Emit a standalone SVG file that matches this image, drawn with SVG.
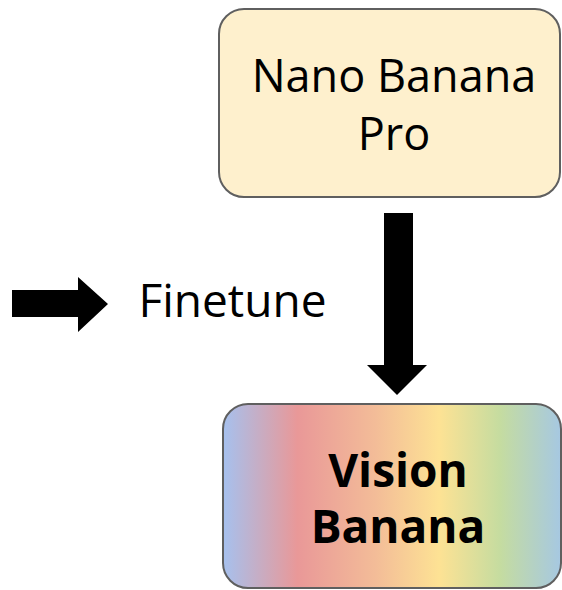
<svg xmlns="http://www.w3.org/2000/svg" width="562" height="590" viewBox="0 0 562 590">
<style>
.box{stroke:#5f5f5f;stroke-width:2}
.t{font-family:"Open Sans","Noto Sans",sans-serif;fill:#000;text-anchor:middle}
.arrow{fill:#000}
</style>
<defs>
<linearGradient id="rainbow" gradientUnits="userSpaceOnUse" x1="223" y1="0" x2="561" y2="0">
<stop offset="0" stop-color="#a6c1ee"/>
<stop offset="0.22" stop-color="#e99898"/>
<stop offset="0.45" stop-color="#f3bc98"/>
<stop offset="0.64" stop-color="#fde294"/>
<stop offset="0.82" stop-color="#c5dca0"/>
<stop offset="1" stop-color="#a6c8e2"/>
</linearGradient>
</defs>
<rect width="562" height="590" fill="#fff"/>
<g id="connectors">
<polygon class="arrow" points="12,290 78,290 78,277 108,304 78,332 78,317 12,317"/>
<polygon class="arrow" points="384,213 413,213 413,365 427,365 397,395 367,365 384,365"/>
</g>
<g id="nano-banana-pro">
<rect class="box" x="219" y="9" width="341" height="188" rx="25" fill="#fef0cd"/>
<text class="t" x="394" y="92" font-size="45">Nano Banana</text>
<text class="t" x="394" y="150" font-size="45">Pro</text>
</g>
<g id="finetune-label">
<text class="t" x="232.5" y="317" font-size="46">Finetune</text>
</g>
<g id="vision-banana">
<rect class="box" x="223" y="404" width="338" height="184" rx="25" fill="url(#rainbow)"/>
<text class="t" x="398" y="487" font-size="46" font-weight="bold">Vision</text>
<text class="t" x="398" y="543" font-size="46" font-weight="bold">Banana</text>
</g>
</svg>
